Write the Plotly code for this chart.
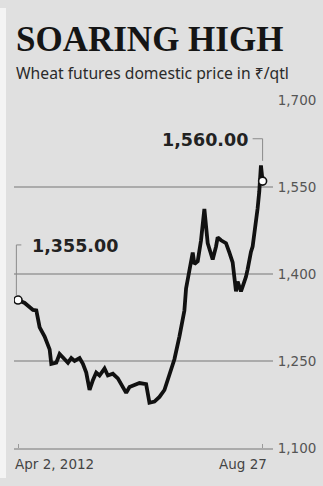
import plotly.graph_objects as go

# ---- data ----
dates = ["2012-04-02","2012-04-06","2012-04-11","2012-04-13","2012-04-15","2012-04-18",
         "2012-04-21","2012-04-22","2012-04-25","2012-04-27","2012-04-30","2012-05-02",
         "2012-05-04","2012-05-06","2012-05-09","2012-05-11","2012-05-13","2012-05-15",
         "2012-05-17","2012-05-19","2012-05-21","2012-05-24","2012-05-26","2012-05-29",
         "2012-06-01","2012-06-04","2012-06-06","2012-06-08","2012-06-11","2012-06-14",
         "2012-06-18","2012-06-20","2012-06-23","2012-06-26","2012-06-29","2012-07-02",
         "2012-07-05","2012-07-08","2012-07-10","2012-07-11","2012-07-12","2012-07-14",
         "2012-07-16","2012-07-17","2012-07-19","2012-07-21","2012-07-23","2012-07-25",
         "2012-07-28","2012-07-30","2012-07-31","2012-08-02","2012-08-05","2012-08-07",
         "2012-08-09","2012-08-10","2012-08-11","2012-08-12","2012-08-13","2012-08-14",
         "2012-08-15","2012-08-16","2012-08-17","2012-08-18","2012-08-19","2012-08-20",
         "2012-08-21","2012-08-22","2012-08-23","2012-08-24","2012-08-25","2012-08-26",
         "2012-08-27"]
prices = [1355,1350,1338,1337,1308,1292,
          1270,1245,1247,1262,1253,1247,
          1255,1250,1255,1245,1230,1200,
          1217,1230,1225,1237,1225,1228,
          1220,1203,1195,1205,1208,1212,
          1210,1178,1180,1188,1200,1225,
          1253,1292,1322,1337,1375,1408,
          1437,1417,1422,1458,1512,1453,
          1425,1447,1463,1458,1453,1437,
          1420,1395,1370,1387,1375,1370,
          1378,1385,1395,1408,1428,1438,
          1447,1467,1492,1513,1542,1587,
          1560]
y_ticks = [1100, 1250, 1400, 1550, 1700]
y_tick_labels = ["1,100", "1,250", "1,400", "1,550", "1,700"]
x_tick_dates = ["2012-04-02", "2012-08-27"]
x_tick_labels = ["Apr 2, 2012", "Aug 27"]
title = "SOARING HIGH"
subtitle = "Wheat futures domestic price in ₹/qtl"
start_label = "1,355.00"
end_label = "1,560.00"

W, H = 323, 486
BG = "#e0e0e0"
GRID = "#ababab"

fig = go.Figure()
fig.add_trace(go.Scatter(x=dates, y=prices, mode="lines",
                         line=dict(color="#111111", width=3.8),
                         hoverinfo="skip", showlegend=False))
fig.add_trace(go.Scatter(x=[dates[0], dates[-1]], y=[prices[0], prices[-1]],
                         mode="markers",
                         marker=dict(color="white", size=8,
                                     line=dict(color="#111111", width=1.6)),
                         hoverinfo="skip", showlegend=False))

fig.update_layout(
    width=W, height=H,
    margin=dict(l=0, r=0, t=0, b=0),
    paper_bgcolor=BG, plot_bgcolor=BG,
    showlegend=False,
    xaxis=dict(domain=[14/W, 273/W], type="date",
               range=["2012-03-30 14:00", "2012-09-02 06:00"],
               showgrid=False, zeroline=False,
               showline=True, linecolor=GRID, linewidth=2,
               tickvals=x_tick_dates, ticks="inside", ticklen=4,
               tickcolor="#9a9a9a", tickwidth=1, showticklabels=False),
    yaxis=dict(domain=[(H-455)/H, (H-95)/H], range=[1100, 1700],
               side="right", tickvals=y_ticks, ticktext=y_tick_labels,
               showgrid=True, gridcolor=GRID, gridwidth=2,
               zeroline=False, showline=False,
               ticks="outside", ticklen=1, tickcolor=BG,
               tickfont=dict(family="DejaVu Sans", size=13.5, color="#555555")),
)

# light left edge strip
fig.add_shape(type="rect", xref="paper", yref="paper", x0=0, x1=6/W, y0=0, y1=1,
              fillcolor="#f4f4f4", line=dict(width=0), layer="below")

# leader lines
fig.add_shape(type="line", xref="x", yref="y", x0="2012-04-01", x1="2012-04-01",
              y0=1363, y1=1450, line=dict(color="#8a8a8a", width=1))
fig.add_shape(type="line", xref="x", yref="y", x0="2012-04-01", x1="2012-04-04",
              y0=1450, y1=1450, line=dict(color="#8a8a8a", width=1))
fig.add_shape(type="line", xref="x", yref="y", x0="2012-08-21", x1="2012-08-27",
              y0=1633, y1=1633, line=dict(color="#8a8a8a", width=1))
fig.add_shape(type="line", xref="x", yref="y", x0="2012-08-27", x1="2012-08-27",
              y0=1633, y1=1595, line=dict(color="#8a8a8a", width=1))

ann = []
ann.append(dict(text=f"<b>{start_label}</b>", x="2012-04-09", y=1448, xref="x", yref="y",
                xanchor="left", yanchor="middle", showarrow=False,
                font=dict(family="DejaVu Sans", size=17.5, color="#222222")))
ann.append(dict(text=f"<b>{end_label}</b>", x="2012-08-19 06:00", y=1630, xref="x", yref="y",
                xanchor="right", yanchor="middle", showarrow=False,
                font=dict(family="DejaVu Sans", size=17.5, color="#222222")))
ann.append(dict(text=x_tick_labels[0], x=x_tick_dates[0], y=1100, xref="x", yref="y",
                xanchor="left", yanchor="top", xshift=-5, yshift=-6, showarrow=False,
                font=dict(family="DejaVu Sans", size=13.5, color="#444444")))
ann.append(dict(text=x_tick_labels[1], x=x_tick_dates[1], y=1100, xref="x", yref="y",
                xanchor="right", yanchor="top", xshift=6, yshift=-6, showarrow=False,
                font=dict(family="DejaVu Sans", size=13.5, color="#444444")))
ann.append(dict(text=f"<b>{title}</b>", x=14/W, y=1-33/H, xref="paper", yref="paper",
                xanchor="left", yanchor="middle", showarrow=False,
                font=dict(family="Liberation Serif", size=35, color="#151515")))
ann.append(dict(text=subtitle, x=14/W, y=1-67/H, xref="paper", yref="paper",
                xanchor="left", yanchor="middle", showarrow=False,
                font=dict(family="Noto Sans", size=15.7, color="#2a2a2a")))
fig.update_layout(annotations=ann)

fig.write_html("out.html")
